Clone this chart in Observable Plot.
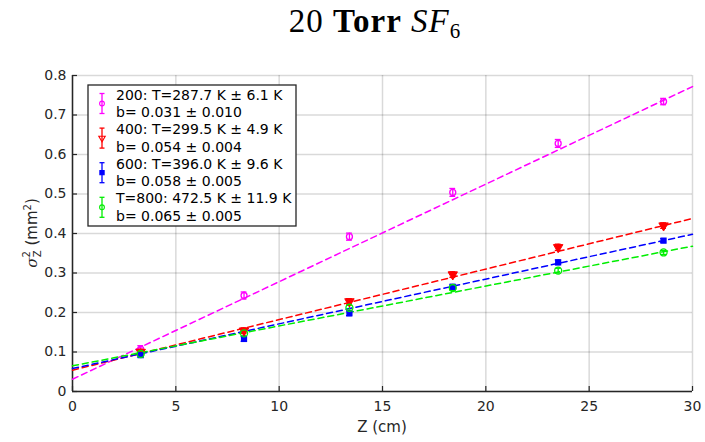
<!DOCTYPE html>
<html><head><meta charset="utf-8">
<script src="https://cdn.jsdelivr.net/npm/d3@7"></script>
<script src="https://cdn.jsdelivr.net/npm/@observablehq/plot@0.6"></script>
<style>
body{margin:0;background:#fff;}
#wrap{position:relative;width:705px;}
#title{height:60px;width:705px;font-family:"Liberation Serif","DejaVu Serif",serif;font-size:33px;color:#000;position:relative;}
#title span.t{position:absolute;left:375px;top:3px;transform:translateX(-50%);white-space:nowrap;letter-spacing:1px;}
#title sub{font-size:21px;vertical-align:-6px;line-height:0;}
</style></head>
<body>
<div id="wrap">
<div id="title"><span class="t">20 <b>Torr</b> <i>SF</i><sub>6</sub></span></div>
<div id="chart"></div>
</div>
<script>
// Data
const zPos = [3.3, 8.3, 13.4, 18.4, 23.5, 28.6];
const series = ["200", "400", "600", "800"];
const legendLine1 = ["200: T=287.7 K \u00b1 6.1 K", "400: T=299.5 K \u00b1 4.9 K", "600: T=396.0 K \u00b1 9.6 K", "T=800: 472.5 K \u00b1 11.9 K"];
const legendLine2 = ["b= 0.031 \u00b1 0.010", "b= 0.054 \u00b1 0.004", "b= 0.058 \u00b1 0.005", "b= 0.065 \u00b1 0.005"];
const sig200 = [0.107, 0.243, 0.392, 0.504, 0.628, 0.734];
const sig400 = [0.100, 0.154, 0.228, 0.296, 0.365, 0.420];
const sig600 = [0.092, 0.133, 0.198, 0.265, 0.327, 0.382];
const sig800 = [0.095, 0.147, 0.212, 0.262, 0.306, 0.352];
const err200 = [0.009, 0.009, 0.009, 0.010, 0.010, 0.008];
const err400 = [0.007, 0.007, 0.007, 0.007, 0.008, 0.007];
const err600 = [0.005, 0.006, 0.006, 0.006, 0.006, 0.005];
const err800 = [0.005, 0.006, 0.006, 0.006, 0.006, 0.005];
const fitIntercept = [0.031, 0.054, 0.058, 0.065];
const fitAt30 = [0.772, 0.438, 0.398, 0.368];
const xTicks = [0, 5, 10, 15, 20, 25, 30];
const yTicks = [0, 0.1, 0.2, 0.3, 0.4, 0.5, 0.6, 0.7, 0.8];
const colors = ["#ff00ff", "#ff0000", "#0000ff", "#00ee00"];

const sigs = [sig200, sig400, sig600, sig800];
const errs = [err200, err400, err600, err800];
const pts = [];
series.forEach((s, i) => zPos.forEach((z, j) => pts.push({s, z, y: sigs[i][j], e: errs[i][j]})));
const fits = [];
series.forEach((s, i) => { fits.push({s, z: 0, y: fitIntercept[i]}); fits.push({s, z: 30, y: fitAt30[i]}); });
const capW = 0.14;
const txt = "#262626";

const chart = Plot.plot({
  width: 705, height: 382,
  marginLeft: 72, marginRight: 13, marginTop: 15, marginBottom: 51,
  style: {fontFamily: "DejaVu Sans, sans-serif", fontSize: "14px", color: txt, background: "#fff"},
  x: {domain: [0, 30], ticks: xTicks, label: null, tickSize: 0, tickPadding: 10},
  y: {domain: [0, 0.8], ticks: yTicks, label: null, tickSize: 0, tickPadding: 6, tickFormat: d => d === 0 ? "0" : d3.format(".1f")(d)},
  color: {domain: series, range: colors},
  marks: [
    Plot.gridX(xTicks, {stroke: "#000", strokeOpacity: 0.15, strokeWidth: 1.5}),
    Plot.gridY(yTicks, {stroke: "#000", strokeOpacity: 0.15, strokeWidth: 1.5}),
    Plot.tickX(xTicks, {x: d => d, stroke: txt, strokeWidth: 1.2, insetTop: 311}),
    Plot.tickY(yTicks, {y: d => d, stroke: txt, strokeWidth: 1.2, insetRight: 615}),
    Plot.ruleX([0], {stroke: txt, strokeWidth: 1.5}),
    Plot.ruleY([0], {stroke: txt, strokeWidth: 1.5}),
    Plot.line(fits, {x: "z", y: "y", z: "s", stroke: "s", strokeWidth: 1.5, strokeDasharray: "6,4"}),
    Plot.ruleX(pts, {x: "z", y1: d => d.y - d.e, y2: d => d.y + d.e, stroke: "s", strokeWidth: 1.3}),
    Plot.ruleY(pts, {y: d => d.y - d.e, x1: d => d.z - capW, x2: d => d.z + capW, stroke: "s", strokeWidth: 1.3}),
    Plot.ruleY(pts, {y: d => d.y + d.e, x1: d => d.z - capW, x2: d => d.z + capW, stroke: "s", strokeWidth: 1.3}),
    Plot.dot(pts.filter(d => d.s === "200"), {x: "z", y: "y", r: 3, stroke: colors[0], strokeWidth: 1.3, symbol: "circle"}),
    Plot.dot(pts.filter(d => d.s === "400"), {x: "z", y: "y", r: 3.5, stroke: colors[1], fill: colors[1], strokeWidth: 1, symbol: "triangle", rotate: 180}),
    Plot.dot(pts.filter(d => d.s === "600"), {x: "z", y: "y", r: 3.5, fill: colors[2], symbol: "square"}),
    Plot.dot(pts.filter(d => d.s === "800"), {x: "z", y: "y", r: 3.5, stroke: colors[3], strokeWidth: 1.3, symbol: "circle"})
  ]
});
document.getElementById("chart").appendChild(chart);

// axis titles and legend
const svg = d3.select(chart);
svg.append("text").attr("x", 382).attr("y", 372).attr("text-anchor", "middle")
  .attr("fill", txt).style("font-size", "15px").text("Z (cm)");
const yl = svg.append("text").attr("transform", "translate(37,173) rotate(-90)")
  .attr("text-anchor", "middle").attr("fill", txt).style("font-size", "15px");
yl.append("tspan").style("font-style", "italic").style("font-family", "DejaVu Serif, serif").text("\u03c3");
yl.append("tspan").attr("dy", -7).style("font-size", "10px").text("2");
yl.append("tspan").attr("dx", -6).attr("dy", 11).style("font-size", "10px").text("Z");
yl.append("tspan").attr("dy", -4).text(" (mm");
yl.append("tspan").attr("dy", -6).style("font-size", "10px").text("2");
yl.append("tspan").attr("dy", 6).text(")");

const lg = svg.append("g").attr("transform", "translate(88,25)");
lg.append("rect").attr("width", 208).attr("height", 141).attr("fill", "#fff").attr("stroke", "#262626").attr("stroke-width", 1.3);
series.forEach((s, i) => {
  const cy = 18.5 + i * 34.6;
  const g = lg.append("g").attr("transform", `translate(14,${cy})`);
  g.append("line").attr("y1", -10).attr("y2", 10).attr("stroke", colors[i]).attr("stroke-width", 1.3);
  g.append("line").attr("x1", -2.5).attr("x2", 2.5).attr("y1", -10).attr("y2", -10).attr("stroke", colors[i]).attr("stroke-width", 1.3);
  g.append("line").attr("x1", -2.5).attr("x2", 2.5).attr("y1", 10).attr("y2", 10).attr("stroke", colors[i]).attr("stroke-width", 1.3);
  const sym = d3.symbol().type(i === 2 ? d3.symbolSquare : i === 1 ? d3.symbolTriangle : d3.symbolCircle).size(18);
  g.append("path").attr("d", sym()).attr("transform", i === 1 ? "rotate(180)" : null)
    .attr("fill", i === 2 ? colors[i] : "none").attr("stroke", colors[i]).attr("stroke-width", 1.1);
  lg.append("text").attr("x", 28).attr("y", cy - 4).attr("text-anchor", "start").attr("fill", "#000").style("font-size", "14px").text(legendLine1[i]);
  lg.append("text").attr("x", 28).attr("y", cy + 13.5).attr("text-anchor", "start").attr("fill", "#000").style("font-size", "14px").text(legendLine2[i]);
});
</script>
</body></html>
